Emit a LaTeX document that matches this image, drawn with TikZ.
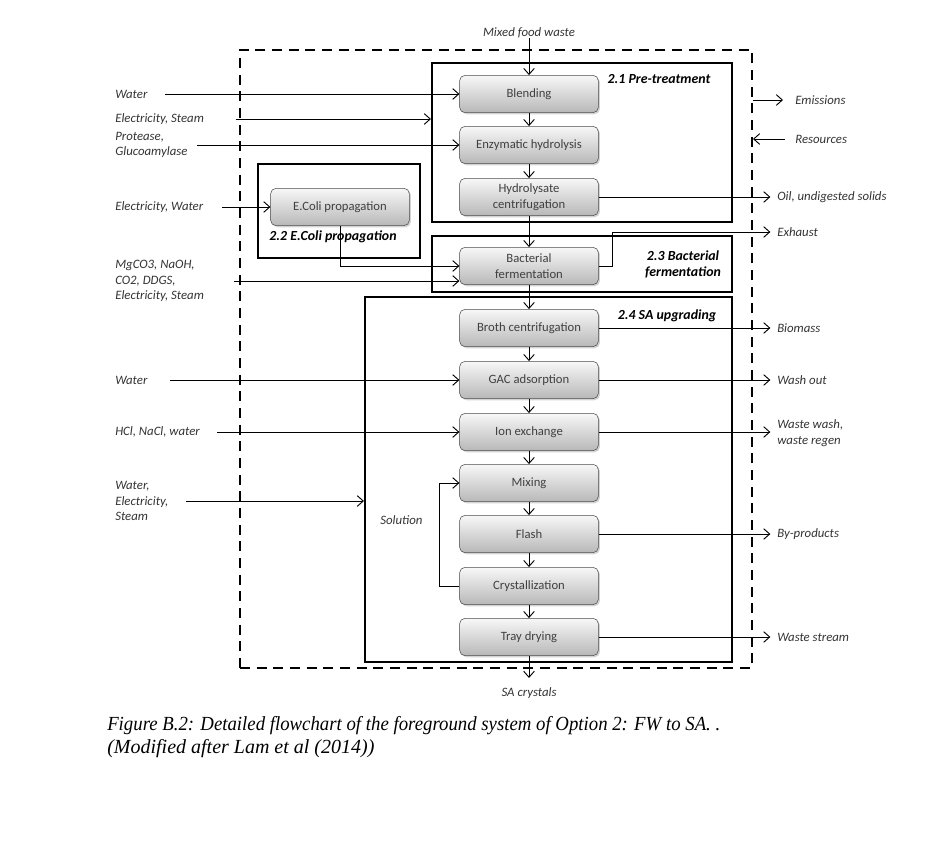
\documentclass[tikz,border=0pt]{standalone}
\usepackage{fontspec}
\usepackage{graphicx}
\setmainfont{Carlito}
\newfontfamily\capfont{Liberation Serif}
\usetikzlibrary{arrows.meta, fit, shadows}

\begin{document}
\begin{tikzpicture}[x=0.75pt, y=-0.75pt]
\useasboundingbox (0,0) rectangle (937,859);

% system boundary and stage frames
\node (sys) [draw=black, line width=1.5pt, dash pattern=on 7.5pt off 5pt, inner sep=0pt, fit={(240,50) (752,668)}] {};
\begin{scope}[every node/.style={draw=black, line width=1.6pt, inner sep=0pt}]
    \node (pre)  [fit={(432,63) (732,222)}] {};
    \node (prop) [fit={(258,164) (420,258)}] {};
    \node (ferm) [fit={(432,236) (732,292)}] {};
    \node (upg)  [fit={(365,297) (732,662)}] {};
\end{scope}

% stage titles
\begin{scope}[every node/.style={font=\bfseries\itshape\fontsize{10.4}{12}\selectfont, align=center, inner sep=0pt}]
    \node (t1) at (659,79) {2.1 Pre-treatment};
    \node (t2) at (333,237) {2.2 E.Coli propagation};
    \node (t3) at (683,264) {2.3 Bacterial\\fermentation};
    \node (t4) at (667,316) {2.4 SA upgrading};
\end{scope}

% process steps
\begin{scope}[every node/.style={rectangle, rounded corners=4pt, draw=black!70, top color=black!3, bottom color=black!28,
              drop shadow={shadow xshift=1.2pt, shadow yshift=-1.2pt, opacity=0.35},
              minimum width=104pt, minimum height=28pt, inner sep=1pt, align=center,
              text=black!75, font=\fontsize{9.5}{12}\selectfont}]
    \node (blend) at (529,94) {Blending};
    \node (enz) at (529,145) {Enzymatic hydrolysis};
    \node (hyd) at (529,197) {Hydrolysate\\centrifugation};

    \node (ecoli) at (340,207) {E.Coli propagation};

    \node (bact) at (529,266) {Bacterial\\fermentation};

    \node (broth) at (529,328) {Broth centrifugation};
    \node (gac) at (529,380) {GAC adsorption};
    \node (ion) at (529,432) {Ion exchange};
    \node (mix) at (529,483) {Mixing};
    \node (flash) at (529,534) {Flash};
    \node (cryst) at (529,586) {Crystallization};
    \node (tray) at (529,637) {Tray drying};
\end{scope}

% stream labels
\begin{scope}[every node/.style={font=\itshape\fontsize{9.6}{11.5}\selectfont, text=black!80, inner sep=0pt, align=left, anchor=west}]
    \node (mfw) [anchor=center] at (529,33) {Mixed food waste};
    \node (sac) [anchor=center] at (529,693) {SA crystals};

    \node (water1) at (115,94) {Water};
    \node (elst) at (115,119) {Electricity, Steam};
    \node (prot) at (115,145) {Protease,\\Glucoamylase};
    \node (elwa) at (115,207) {Electricity, Water};
    \node (mgco) at (115,281) {MgCO3, NaOH,\\CO2, DDGS,\\Electricity, Steam};
    \node (water2) at (115,380) {Water};
    \node (hcl) at (115,432) {HCl, NaCl, water};
    \node (wes) at (115,501) {Water,\\Electricity,\\Steam};
    \node (sol) at (380,520) {Solution};

    \node (emi) at (795,100) {Emissions};
    \node (res) at (795,139) {Resources};
    \node (oil) at (777,197) {Oil, undigested solids};
    \node (exh) at (777,232) {Exhaust};
    \node (bio) at (777,328) {Biomass};
    \node (wash) at (777,380) {Wash out};
    \node (wwr) at (777,433) {Waste wash,\\waste regen};
    \node (byp) at (777,534) {By-products};
    \node (wst) at (777,637) {Waste stream};
\end{scope}

\coordinate (water1in) at (165,94);
\coordinate (elstin) at (236,119);
\coordinate (protin) at (197,145);
\coordinate (elwain) at (222,207);
\coordinate (mgcoin) at (234,281);
\coordinate (water2in) at (170,380);
\coordinate (hclin) at (217,432);
\coordinate (wesin) at (186,501);

\begin{scope}[>={Straight Barb[length=4.5pt, width=8pt]},
              every edge/.style={draw=black, line width=0.7pt}]
    % main line
    \path [->] (mfw) edge (blend);
    \path [->] (blend) edge (enz);
    \path [->] (enz) edge (hyd);
    \path [->] (hyd) edge (bact);
    \path [->] (bact) edge (broth);
    \path [->] (broth) edge (gac);
    \path [->] (gac) edge (ion);
    \path [->] (ion) edge (mix);
    \path [->] (mix) edge (flash);
    \path [->] (flash) edge (cryst);
    \path [->] (cryst) edge (tray);
    \path [->] (tray) edge[shorten >=7pt] (sac);

    % inputs
    \path [->] (water1in) edge (water1in -| blend.west);
    \path [->] (elstin) edge (elstin -| pre.west);
    \path [->] (protin) edge (protin -| enz.west);
    \path [->] (elwain) edge (elwain -| ecoli.west);
    \path [->] (mgcoin) edge (mgcoin -| bact.west);
    \path [->] (water2in) edge (water2in -| gac.west);
    \path [->] (hclin) edge (hclin -| ion.west);
    \path [->] (wesin) edge (wesin -| upg.west);
    \draw [->, line width=0.7pt] (ecoli.south) |- (bact.west);
    \draw [->, line width=0.7pt] (cryst.west) -- ++(-20,0) |- (mix.west);

    % outputs
    \path [->] (emi.west -| sys.east) edge ([xshift=-9pt]emi.west);
    \path [->] ([xshift=-7.5pt]res.west) edge (res.west -| sys.east);
    \path [->] (hyd.east) edge ([xshift=-5pt]oil.west);
    \draw [->, line width=0.7pt] (bact.east) -- ++(14,0) |- ([xshift=-5pt]exh.west);
    \path [->] (broth.east) edge ([xshift=-5pt]bio.west);
    \path [->] (gac.east) edge ([xshift=-5pt]wash.west);
    \path [->] (ion.east) edge ([xshift=-5pt]ion.east -| wwr.west);
    \path [->] (flash.east) edge ([xshift=-5pt]byp.west);
    \path [->] (tray.east) edge ([xshift=-5pt]wst.west);
\end{scope}

% caption
\node (cap) [anchor=north west, inner sep=0pt, align=left, font=\capfont\itshape\fontsize{15}{17.25}\selectfont]
    at (107,716) {\resizebox{459.75pt}{\height}{Figure B.2: Detailed flowchart of the foreground system of Option 2: FW to SA. .}\\(Modified after Lam et al (2014))};
\end{tikzpicture}
\end{document}
